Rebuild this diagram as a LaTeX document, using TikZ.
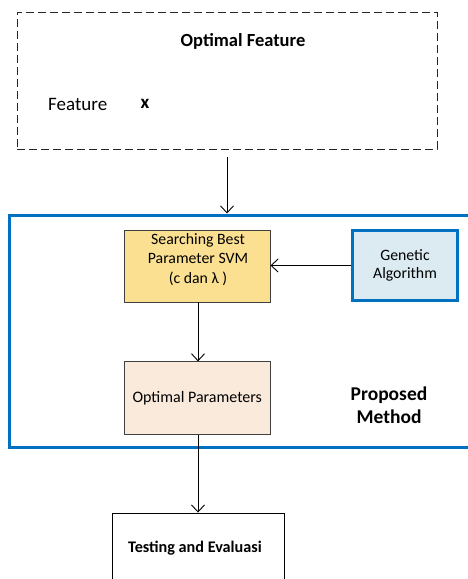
\documentclass[tikz,border=0pt]{standalone}
\usepackage{fontspec}
\setmainfont{Carlito}
\usetikzlibrary{arrows.meta,calc}

\definecolor{methodblue}{HTML}{0070C0}
\definecolor{searchfill}{HTML}{FCE092}
\definecolor{paramfill}{HTML}{FAEADC}
\definecolor{gafill}{HTML}{DCEBF2}
\definecolor{boxedge}{HTML}{404040}

\tikzset{
  flow/.style={draw=black, line width=0.9pt, -{Straight Barb[length=7pt,width=13pt,line width=0.9pt]}},
  procbox/.style={draw=boxedge, line width=0.9pt, inner sep=0pt},
  plain/.style={inner sep=0pt, align=center},
}

\begin{document}
\begin{tikzpicture}[x=1pt,y=-1pt]
\useasboundingbox (0,0) rectangle (467,579);

% input feature block
\node[draw=black!85, line width=0.9pt, dash pattern=on 8pt off 4pt,
      minimum width=420pt, minimum height=137pt, inner sep=0pt] (feat) at (227,80.5) {};
\node[plain, font=\fontsize{18.5}{21}\selectfont\bfseries] (feattitle) at (243,41) {Optimal Feature};
\node[plain, font=\fontsize{19}{22}\selectfont, anchor=west] (featname) at (48,104) {Feature};
\node[plain, font=\fontsize{19}{22}\selectfont\bfseries] (featx) at (145,104) {x};

% proposed method frame (runs off the right edge)
\node[draw=methodblue, line width=3pt, minimum width=466pt, minimum height=232pt, inner sep=0pt] (method) at (242,331) {};
\node[plain, font=\fontsize{19.5}{23}\selectfont\bfseries] (methodlabel) at (389,405) {Proposed\\Method};

% parameter search
\node[procbox, fill=searchfill, minimum width=145.5pt, minimum height=71.3pt] (search) at (197.25,266.3) {};
\node[plain, font=\fontsize{15.8}{19.5}\selectfont] (searchtext) at (198,259.5) {Searching Best\\Parameter SVM\\(c dan λ )};

% genetic algorithm
\node[draw=methodblue, line width=3pt, fill=gafill, minimum width=105pt, minimum height=70pt,
      plain, font=\fontsize{15.8}{18}\selectfont] (ga) at (405,265.5) {Genetic\\Algorithm};

% optimal parameters
\node[procbox, fill=paramfill, minimum width=145.5pt, minimum height=72.3pt,
      font=\fontsize{16}{18}\selectfont] (opt) at (197.25,398) {Optimal Parameters};

% testing (runs off the bottom edge)
\node[draw=black, line width=0.9pt, minimum width=172pt, minimum height=76pt, inner sep=0pt] (test) at (198.3,551) {};
\node[plain, font=\fontsize{16.2}{19}\selectfont\bfseries] (testtext) at (195,548) {Testing and Evaluasi};

% connectors
\coordinate (featout) at (227,157);
\draw[flow] (featout) -- (featout |- method.north);
\draw[flow] (ga.west) -- (ga.west -| search.east);
\draw[flow] (search.south -| 198,0) -- (opt.north -| 198,0);
\draw[flow] (opt.south -| 198,0) -- (test.north -| 198,0);
\end{tikzpicture}
\end{document}
